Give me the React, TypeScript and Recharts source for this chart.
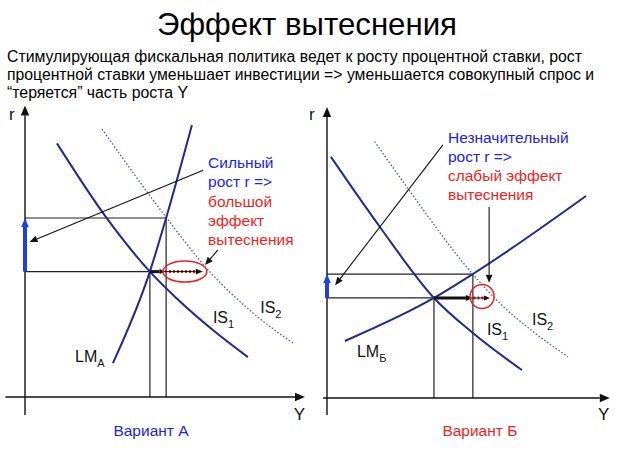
import React from 'react'
import { ComposedChart, Line, XAxis, YAxis, ReferenceLine, ReferenceDot } from 'recharts'

// ---- Вариант А (крутая LM) ----
const isA1Y = [11.4, 29, 44.6, 54.3, 67.1, 79.6]
const isA1R = [89, 63, 44, 34.5, 23.5, 14]
const isA2Y = [27.5, 50.6, 65.4, 81.4, 95.7]
const isA2R = [94, 62.8, 44.6, 29.5, 18.9]
const lmAY = [31.4, 44.6, 50.4, 59.6]
const lmAR = [11.9, 44, 62.8, 95.4]
// равновесия: [Y1, r1, Y2, r2]
const eqA = [44.6, 44, 50.4, 62.8]

// ---- Вариант Б (пологая LM) ----
const isB1Y = [1.4, 18.9, 38.2, 52.1, 69.6]
const isB1R = [84.6, 60, 35.1, 22.8, 9.8]
const isB2Y = [17, 30, 52, 62, 74, 86]
const isB2R = [90, 72, 43.5, 33, 23, 14.5]
const lmBY = [6.4, 38.2, 52.1, 92.5]
const lmBR = [20, 35.1, 43.5, 70.9]
const eqB = [38.2, 35.1, 52.1, 43.5]

const TITLE = 'Эффект вытеснения'
const INTRO = [
  'Стимулирующая фискальная политика ведет к росту процентной ставки, рост',
  'процентной ставки уменьшает инвестиции => уменьшается совокупный спрос и',
  '“теряется” часть роста Y',
]

const FONT = '"Liberation Sans", Arial, Helvetica, sans-serif'
const CURVE = '#1f2b8c'
const DOTTED = '#3f56aa'
const BLUE = '#2222e6'
const RED = '#f21d1d'
const ARROW_BLUE = '#1f3fe0'

const toPts = (ys: number[], rs: number[]) => ys.map((Y, i) => ({ Y, r: rs[i] }))

function arrowShape(color: string, width: number, head = 8, dash?: string) {
  return (p: any) => {
    const { x1, y1, x2, y2 } = p
    const a = Math.atan2(y2 - y1, x2 - x1)
    const bx = x2 - head * Math.cos(a)
    const by = y2 - head * Math.sin(a)
    const w = head * 0.42
    const px = -Math.sin(a) * w
    const py = Math.cos(a) * w
    return (
      <g>
        <line x1={x1} y1={y1} x2={bx} y2={by} stroke={color} strokeWidth={width} strokeDasharray={dash} />
        <polygon points={`${x2},${y2} ${bx + px},${by + py} ${bx - px},${by - py}`} fill={color} />
      </g>
    )
  }
}

function textShape(lines: { t: string; c: string }[], size = 15.5, lh = 19.3, anchor: 'start' | 'middle' = 'start') {
  return (p: any) => (
    <text x={p.cx} y={p.cy} fontSize={size} fontFamily={FONT} textAnchor={anchor}>
      {lines.map((l, i) => (
        <tspan key={i} x={p.cx} dy={i === 0 ? 0 : lh} fill={l.c}>
          {l.t}
        </tspan>
      ))}
    </text>
  )
}

function subLabel(main: string, sub: string) {
  return (p: any) => (
    <text x={p.cx} y={p.cy} fontSize={16} fontFamily={FONT} fill="#111">
      {main}
      <tspan fontSize={11} dy={5}>
        {sub}
      </tspan>
    </text>
  )
}

const ellipseShape = (rx: number, ry: number) => (p: any) => (
  <ellipse cx={p.cx} cy={p.cy} rx={rx} ry={ry} fill="none" stroke={RED} strokeWidth={1.5} />
)

// пиксели на единицу по осям
const SX = 2.8
const SY = 2.85

interface PanelProps {
  left: number
  width: number
  originX: number
  originY: number
  is1: { Y: number; r: number }[]
  is2: { Y: number; r: number }[]
  lm: { Y: number; r: number }[]
  eq: number[]
  children?: React.ReactNode
}

const TOP = 100
const HEIGHT = 359

function Panel({ left, width, originX, originY, is1, is2, lm, eq, children }: PanelProps) {
  const xDom: [number, number] = [(left - originX) / SX, (left + width - originX) / SX]
  const yDom: [number, number] = [(originY - TOP - HEIGHT) / SY, (originY - TOP) / SY]
  const [Y1, r1, Y2, r2] = eq
  const guide = { stroke: '#222', strokeWidth: 1.2, ifOverflow: 'visible' as const }
  return (
    <div style={{ position: 'absolute', left, top: TOP }}>
      <ComposedChart width={width} height={HEIGHT} margin={{ top: 0, right: 0, bottom: 0, left: 0 }}>
        <XAxis type="number" dataKey="Y" domain={xDom} allowDataOverflow hide />
        <YAxis type="number" dataKey="r" domain={yDom} allowDataOverflow hide />

        <ReferenceLine segment={[{ x: 0, y: r1 }, { x: Y1, y: r1 }]} {...guide} />
        <ReferenceLine segment={[{ x: 0, y: r2 }, { x: Y2, y: r2 }]} {...guide} />
        <ReferenceLine segment={[{ x: Y1, y: 0 }, { x: Y1, y: r1 }]} {...guide} />
        <ReferenceLine segment={[{ x: Y2, y: 0 }, { x: Y2, y: r2 }]} {...guide} />

        <Line data={is2} dataKey="r" type="monotone" stroke={DOTTED} strokeWidth={1.3} strokeDasharray="1.5 2" dot={false} isAnimationActive={false} />
        <Line data={is1} dataKey="r" type="monotone" stroke={CURVE} strokeWidth={2} dot={false} isAnimationActive={false} />
        <Line data={lm} dataKey="r" type="monotone" stroke={CURVE} strokeWidth={2} dot={false} isAnimationActive={false} />

        {children}

        <ReferenceLine segment={[{ x: 0, y: r1 }, { x: 0, y: r2 }]} ifOverflow="visible" shape={arrowShape(ARROW_BLUE, 4, 9)} />
      </ComposedChart>
    </div>
  )
}

export default function App() {
  const isA1 = toPts(isA1Y, isA1R)
  const isA2 = toPts(isA2Y, isA2R)
  const lmA = toPts(lmAY, lmAR)
  const isB1 = toPts(isB1Y, isB1R)
  const isB2 = toPts(isB2Y, isB2R)
  const lmB = toPts(lmBY, lmBR)
  const axis = arrowShape('#111', 1.4, 10)
  const thin = arrowShape('#111', 1.1, 8)

  return (
    <div style={{ position: 'absolute', left: 0, top: 0, width: 623, height: 459, background: '#fff', overflow: 'hidden' }}>
      <svg width={623} height={105} style={{ position: 'absolute', left: 0, top: 0 }}>
        <text x={157} y={35} fontSize={32} fontFamily={FONT} fill="#000" textLength={300} lengthAdjust="spacingAndGlyphs">
          {TITLE}
        </text>
        {INTRO.map((t, i) => (
          <text
            key={i}
            x={7}
            y={62 + i * 18}
            fontSize={16}
            fontFamily={FONT}
            fill="#000"
            textLength={[575, 587, 181][i]}
            lengthAdjust="spacingAndGlyphs"
          >
            {t}
          </text>
        ))}
      </svg>

      {/* Вариант А */}
      <Panel left={0} width={310} originX={25} originY={397} is1={isA1} is2={isA2} lm={lmA} eq={eqA}>
        <ReferenceLine segment={[{ x: 0, y: -6.3 }, { x: 0, y: 102.3 }]} ifOverflow="visible" shape={axis} />
        <ReferenceLine segment={[{ x: -7, y: 0 }, { x: 100, y: 0 }]} ifOverflow="visible" shape={axis} />
        <ReferenceLine segment={[{ x: 50, y: 44 }, { x: 62, y: 44 }]} ifOverflow="visible" stroke={RED} strokeWidth={3} strokeDasharray="2 2" />
        <ReferenceLine segment={[{ x: 50, y: 44 }, { x: 63.5, y: 44 }]} ifOverflow="visible" shape={arrowShape('#111', 1, 7)} />
        <ReferenceLine segment={[{ x: 44.6, y: 44 }, { x: 50.2, y: 44 }]} ifOverflow="visible" shape={arrowShape('#111', 3, 6)} />
        <ReferenceDot x={57.1} y={44} ifOverflow="visible" shape={ellipseShape(22, 10.5)} />
        <ReferenceLine segment={[{ x: 63.6, y: 79.6 }, { x: 1.6, y: 54.4 }]} ifOverflow="visible" shape={thin} />
        <ReferenceLine segment={[{ x: 68.9, y: 51.6 }, { x: 64.3, y: 46.3 }]} ifOverflow="visible" shape={thin} />
        <ReferenceDot
          x={65.4}
          y={80.3}
          ifOverflow="visible"
          shape={textShape([
            { t: 'Сильный', c: BLUE },
            { t: 'рост r =>', c: BLUE },
            { t: 'большой', c: RED },
            { t: 'эффект', c: RED },
            { t: 'вытеснения', c: RED },
          ])}
        />
        <ReferenceDot x={84} y={29.5} ifOverflow="visible" shape={subLabel('IS', '2')} />
        <ReferenceDot x={67.1} y={26} ifOverflow="visible" shape={subLabel('IS', '1')} />
        <ReferenceDot x={17.9} y={12.3} ifOverflow="visible" shape={subLabel('LM', 'A')} />
        <ReferenceDot x={-5.7} y={97.2} ifOverflow="visible" shape={textShape([{ t: 'r', c: '#111' }], 17)} />
        <ReferenceDot x={96} y={-8.1} ifOverflow="visible" shape={textShape([{ t: 'Y', c: '#111' }], 17)} />
        <ReferenceDot x={45} y={-13.7} ifOverflow="visible" shape={textShape([{ t: 'Вариант А', c: BLUE }], 15.5, 19, 'middle')} />
      </Panel>

      {/* Вариант Б */}
      <Panel left={310} width={313} originX={327} originY={398} is1={isB1} is2={isB2} lm={lmB} eq={eqB}>
        <ReferenceLine segment={[{ x: 0, y: -6 }, { x: 0, y: 102.1 }]} ifOverflow="visible" shape={axis} />
        <ReferenceLine segment={[{ x: -1.4, y: 0 }, { x: 101, y: 0 }]} ifOverflow="visible" shape={axis} />
        <ReferenceLine segment={[{ x: 52.3, y: 35.1 }, { x: 57, y: 35.1 }]} ifOverflow="visible" stroke={RED} strokeWidth={3} strokeDasharray="2 2" />
        <ReferenceLine segment={[{ x: 52, y: 35.1 }, { x: 58.2, y: 35.1 }]} ifOverflow="visible" shape={arrowShape('#111', 1, 6)} />
        <ReferenceLine segment={[{ x: 38.2, y: 35.1 }, { x: 52.1, y: 35.1 }]} ifOverflow="visible" shape={arrowShape('#111', 3, 7)} />
        <ReferenceDot x={55.4} y={35.6} ifOverflow="visible" shape={ellipseShape(12, 12)} />
        <ReferenceLine segment={[{ x: 41.4, y: 88.8 }, { x: 2.9, y: 39.6 }]} ifOverflow="visible" shape={thin} />
        <ReferenceLine segment={[{ x: 57.9, y: 67 }, { x: 57.9, y: 40.4 }]} ifOverflow="visible" shape={thin} />
        <ReferenceDot
          x={43.2}
          y={89.5}
          ifOverflow="visible"
          shape={textShape(
            [
              { t: 'Незначительный', c: BLUE },
              { t: 'рост r =>', c: BLUE },
              { t: 'слабый эффект', c: RED },
              { t: 'вытеснения', c: RED },
            ],
            15.5,
            19,
          )}
        />
        <ReferenceDot x={73.2} y={25.6} ifOverflow="visible" shape={subLabel('IS', '2')} />
        <ReferenceDot x={57.1} y={22.1} ifOverflow="visible" shape={subLabel('IS', '1')} />
        <ReferenceDot x={10.7} y={14.4} ifOverflow="visible" shape={subLabel('LM', 'Б')} />
        <ReferenceDot x={-6.4} y={97.5} ifOverflow="visible" shape={textShape([{ t: 'r', c: '#111' }], 17)} />
        <ReferenceDot x={96.8} y={-7.7} ifOverflow="visible" shape={textShape([{ t: 'Y', c: '#111' }], 17)} />
        <ReferenceDot x={54.6} y={-13.3} ifOverflow="visible" shape={textShape([{ t: 'Вариант Б', c: RED }], 15.5, 19, 'middle')} />
      </Panel>
    </div>
  )
}
